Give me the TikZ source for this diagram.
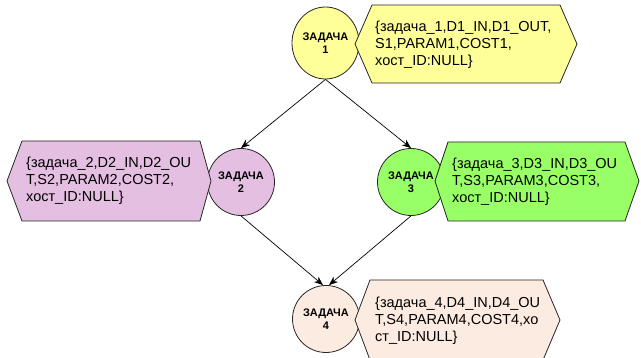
\documentclass[tikz,border=0pt]{standalone}
\usepackage{fontspec}
\setmainfont{Liberation Sans}
\usetikzlibrary{arrows.meta,shapes.geometric}
\definecolor{taskyellow}{HTML}{FFFF99}
\definecolor{tasklilac}{HTML}{E4BFE1}
\definecolor{taskgreen}{HTML}{99FF66}
\definecolor{tasklinen}{HTML}{FCEBE0}
\tikzset{
  task/.style={circle, draw=black!85, line width=0.8pt, minimum size=67pt, inner sep=0pt,
    align=center, font=\bfseries\fontsize{11}{13}\selectfont},
  hexshape/.style={draw=black!85, line width=0.8pt, line join=miter},
  desc/.style={anchor=west, inner sep=0pt, align=left, font=\fontsize{14.5}{16.8}\selectfont},
  flow/.style={draw=black, line width=0.7pt, -{Stealth[length=9pt,width=7pt]}},
}
\begin{document}
\begin{tikzpicture}[x=1pt,y=-1pt]
\fill[white] (0,0) rectangle (641,358);
\useasboundingbox (0,0) rectangle (641,358);
\clip (0,0) rectangle (641,358);

% tasks
\node[task, ellipse, minimum width=67pt, minimum height=72pt, fill=taskyellow] (t1) at (325.5,43) {ЗАДАЧА\\1};
\node[task, fill=tasklilac]  (t2) at (241,182) {ЗАДАЧА\\2};
\node[task, fill=taskgreen]  (t3) at (411,182) {ЗАДАЧА\\3};
\node[task, fill=tasklinen]  (t4) at (326,319) {ЗАДАЧА\\4};

% descriptor hexagons
\draw[hexshape, fill=taskyellow] (355,44) -- (372,5) -- (560,5) -- (577,44) -- (560,83) -- (372,83) -- cycle;
\node[desc] (d1) at (375,45) {\{задача\_1,D1\_IN,D1\_OUT,\\S1,PARAM1,COST1,\\хост\_ID:NULL\}};

\draw[hexshape, fill=tasklilac] (7,181) -- (22,141) -- (200,141) -- (211,181) -- (200,221) -- (22,221) -- cycle;
\node[desc] (d2) at (26,181) {\{задача\_2,D2\_IN,D2\_OU\\T,S2,PARAM2,COST2,\\хост\_ID:NULL\}};

\draw[hexshape, fill=taskgreen] (435,181) -- (448,142) -- (625,142) -- (639,181) -- (625,221) -- (448,221) -- cycle;
\node[desc] (d3) at (452,182) {\{задача\_3,D3\_IN,D3\_OU\\T,S3,PARAM3,COST3,\\хост\_ID:NULL\}};

\draw[hexshape, fill=tasklinen] (355,320) -- (370,280) -- (543,280) -- (560,320) -- (543,360) -- (370,360) -- cycle;
\node[desc] (d4) at (375,321) {\{задача\_4,D4\_IN,D4\_OU\\T,S4,PARAM4,COST4,хо\\ст\_ID:NULL\}};

% precedence
\draw[flow] (t1.south) -- (t2.north);
\draw[flow] (t1.south) -- (t3.north);
\draw[flow] (t2.south) -- ([xshift=-3pt]t4.north);
\draw[flow] (t3.south) -- ([xshift=3pt]t4.north);
\end{tikzpicture}
\end{document}
